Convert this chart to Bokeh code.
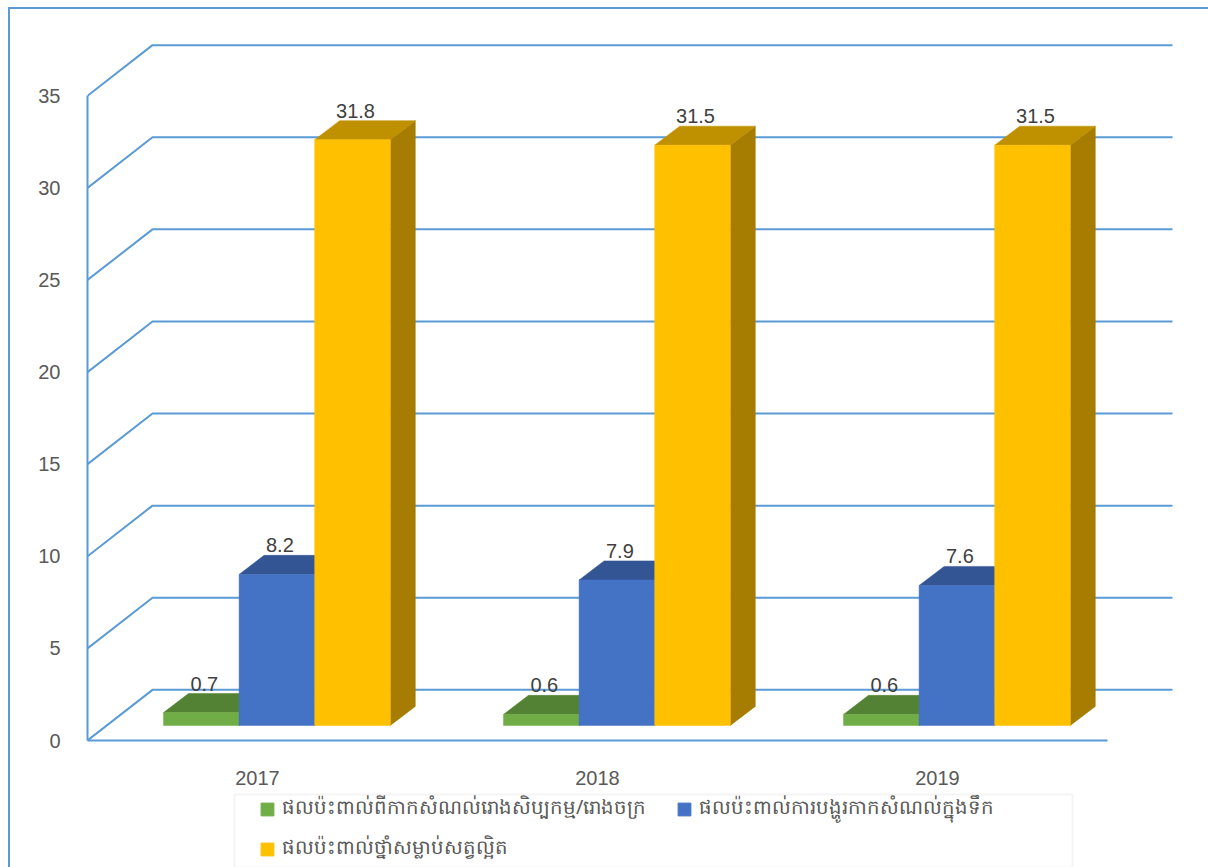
from bokeh.plotting import figure
from bokeh.layouts import column
from bokeh.embed import file_html
from bokeh.resources import INLINE
from bokeh.models import Range1d, FixedTicker, Legend, LegendItem, LinearAxis, BoxAnnotation
from bokeh.core.properties import value

years = ["2017", "2018", "2019"]
industry = [0.7, 0.6, 0.6]
household = [8.2, 7.9, 7.6]
pesticide = [31.8, 31.5, 31.5]
series_names = [
    "ផលប៉ះពាល់ពីកាកសំណល់រោងសិប្បកម្ម/រោងចក្រ",
    "ផលប៉ះពាល់ការបង្ហូរកាកសំណល់ក្នុងទឹក",
    "ផលប៉ះពាល់ថ្នាំសម្លាប់សត្វល្អិត",
]
y_ticks = [0, 5, 10, 15, 20, 25, 30, 35]

front_colors = ["#70AD47", "#4472C4", "#FFC000"]
top_colors = ["#548235", "#335593", "#BF9000"]
side_colors = ["#43682B", "#264478", "#A67D00"]
BLUE = "#5B9BD5"
PX_X = 340.0
PX_Y = 18.37
WALL_DX, WALL_DY = 65 / PX_X, 50.5 / PX_Y
BAR_DX, BAR_DY = 25 / PX_X, 19 / PX_Y
BASE_X, BASE_Y = 76 / PX_X, 15 / PX_Y
BAR_W = 75.6 / PX_X

W, H = 1200, 781
LEFT = 77
FRAME_H = 729
p = figure(width=W, height=H, output_backend="svg", toolbar_location=None,
           x_axis_type=None, y_axis_type=None,
           x_range=Range1d(0, (W - LEFT) / PX_X), y_range=Range1d(0, FRAME_H / PX_Y),
           min_border_left=LEFT, min_border_bottom=H - FRAME_H + 2, min_border_top=0, min_border_right=0,
           frame_height=FRAME_H,
           background_fill_color="white", border_fill_color="white",
           margin=(7, 0, 0, 8),
           styles={"border-left": f"2px solid {BLUE}", "border-top": f"2px solid {BLUE}"})
p.outline_line_color = None
p.grid.visible = False

# walls
xs, ys = [], []
for t in y_ticks:
    xs.append([0, WALL_DX, 3 + WALL_DX])
    ys.append([t, t + WALL_DY, t + WALL_DY])
p.multi_line(xs, ys, line_color=BLUE, line_width=2)

# bars
for s, vals in enumerate([industry, household, pesticide]):
    left = [i + BASE_X + s * BAR_W for i in range(3)]
    right = [l + BAR_W for l in left]
    tops = [BASE_Y + v for v in vals]
    p.patches([[r, r + BAR_DX, r + BAR_DX, r] for r, t in zip(right, tops)],
              [[BASE_Y, BASE_Y + BAR_DY, t + BAR_DY, t] for r, t in zip(right, tops)],
              fill_color=side_colors[s], line_color=side_colors[s], line_width=0.5)
    p.patches([[l, l + BAR_DX, r + BAR_DX, r] for l, r in zip(left, right)],
              [[t, t + BAR_DY, t + BAR_DY, t] for t in tops],
              fill_color=top_colors[s], line_color=top_colors[s], line_width=0.5)
    p.quad(left=left, right=right, bottom=BASE_Y, top=tops,
           fill_color=front_colors[s], line_color=front_colors[s], line_width=0.5)
    p.text([l + BAR_W / 2 for l in left], [t + BAR_DY for t in tops],
           text=[str(v) for v in vals], text_font=value("Liberation Sans"),
           text_font_size="20px", text_color="#404040", text_align="center",
           text_baseline="alphabetic", x_offset=3, y_offset=-10)

# axes
ya = LinearAxis(ticker=FixedTicker(ticks=y_ticks), bounds=(0, 35))
ya.axis_line_color = BLUE
ya.axis_line_width = 2
ya.major_tick_line_color = None
ya.minor_tick_line_color = None
ya.major_label_text_font = "Liberation Sans"
ya.major_label_text_font_size = "20px"
ya.major_label_text_color = "#595959"
ya.major_label_standoff = 21
p.add_layout(ya, "left")

xa = LinearAxis(ticker=FixedTicker(ticks=[0.5, 1.5, 2.5]),
                major_label_overrides={0.5: years[0], 1.5: years[1], 2.5: years[2]},
                bounds=(0, 3))
xa.axis_line_color = BLUE
xa.axis_line_width = 2
xa.major_tick_line_color = None
xa.minor_tick_line_color = None
xa.major_label_text_font = "Liberation Sans"
xa.major_label_text_font_size = "20px"
xa.major_label_text_color = "#595959"
xa.major_label_standoff = 24
p.add_layout(xa, "below")

# legend strip under the chart; the column lines its frame up with the chart's frame
LH = 77
q = figure(width=W, height=LH, output_backend="svg", toolbar_location=None,
           x_axis_type=None, y_axis_type=None,
           x_range=Range1d(0, W - LEFT), y_range=Range1d(LH, 0),
           min_border_left=0, min_border_bottom=0, min_border_top=0, min_border_right=0,
           background_fill_color="white", border_fill_color="white",
           margin=(0, 0, 0, 8),
           styles={"border-left": f"2px solid {BLUE}"})
q.outline_line_color = None
q.grid.visible = False
q.add_layout(BoxAnnotation(left=147, right=985, top=2, bottom=75, fill_alpha=0,
                           line_color="#D9D9D9", line_width=2))
swatches = [q.quad(left=[-10], right=[-5], top=[-10], bottom=[-5],
                   fill_color=c, line_color=c) for c in front_colors]
legend = Legend(items=[LegendItem(label=n, renderers=[r]) for n, r in zip(series_names, swatches)],
                location=(172, 5), orientation="horizontal", ncols=2,
                label_text_font="Noto Sans", label_text_font_size="19.7px",
                label_text_color="#595959", glyph_width=16, glyph_height=16, label_standoff=7,
                label_width=385, border_line_color=None, background_fill_alpha=0,
                padding=2, spacing=9, margin=0)
q.add_layout(legend)

open("out.html", "w").write(file_html(column(p, q), INLINE))
